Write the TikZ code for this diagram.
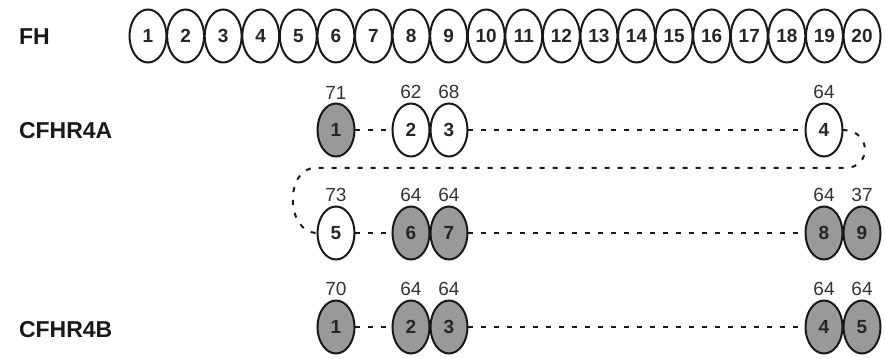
\documentclass[tikz,border=0pt]{standalone}
\usepackage{fontspec}
\setmainfont{Liberation Sans}
\usetikzlibrary{shapes.geometric}

\definecolor{domgray}{gray}{0.6}

\tikzset{
  scr/.style={ellipse, draw=black!90, line width=1pt, fill=white,
    minimum width=18.5pt, minimum height=26.5pt, inner sep=0pt, outer sep=0pt,
    font=\fontsize{9.5}{11}\selectfont\bfseries, text=black!85},
  scrg/.style={scr, fill=domgray},
  ident/.style={font=\fontsize{9.5}{11}\selectfont, text=black!80, inner sep=2pt},
  protname/.style={anchor=west, font=\fontsize{11.5}{13}\selectfont\bfseries, text=black!90},
  link/.style={line width=1pt, dash pattern=on 2.5pt off 4pt, black!90}
}

\begin{document}
\begin{tikzpicture}[x=0.5pt, y=-0.5pt]
\useasboundingbox (0,0) rectangle (885,358);
%\draw [lightgray](0,0) grid[step=50] (885,358);

% FH
\node[protname] (fh) at (12,37) {FH};
\foreach \k in {1,...,20}
  \node[scr] (fh\k) at ({110.42+37.58*\k},36) {\k};

% CFHR4A
\node[protname] (cfhra) at (12,131) {CFHR4A};

\node[scrg, label={[ident]above:71}] (a1) at (336,130) {1};
\node[scr,  label={[ident]above:62}] (a2) at (411,130) {2};
\node[scr,  label={[ident]above:68}] (a3) at (449,130) {3};
\node[scr,  label={[ident]above:64}] (a4) at (824,130) {4};

\node[scr,  label={[ident]above:73}] (a5) at (336,233) {5};
\node[scrg, label={[ident]above:64}] (a6) at (411,233) {6};
\node[scrg, label={[ident]above:64}] (a7) at (449,233) {7};
\node[scrg, label={[ident]above:64}] (a8) at (824,233) {8};
\node[scrg, label={[ident]above:37}] (a9) at (862,233) {9};

\draw[link] (a1) -- (a2);
\draw[link] (a3) -- (a4);
\draw[link] (a4.east) .. controls (872,130) and (872,168) .. (845,168)
  -- (315,168) .. controls (285,168) and (285,233) .. (a5.west);
\draw[link] (a5) -- (a6);
\draw[link] (a7) -- (a8);

% CFHR4B
\node[protname] (cfhrb) at (12,330) {CFHR4B};

\node[scrg, label={[ident]above:70}] (b1) at (336,327) {1};
\node[scrg, label={[ident]above:64}] (b2) at (411,327) {2};
\node[scrg, label={[ident]above:64}] (b3) at (449,327) {3};
\node[scrg, label={[ident]above:64}] (b4) at (824,327) {4};
\node[scrg, label={[ident]above:64}] (b5) at (862,327) {5};

\draw[link] (b1) -- (b2);
\draw[link] (b3) -- (b4);

\end{tikzpicture}
\end{document}
